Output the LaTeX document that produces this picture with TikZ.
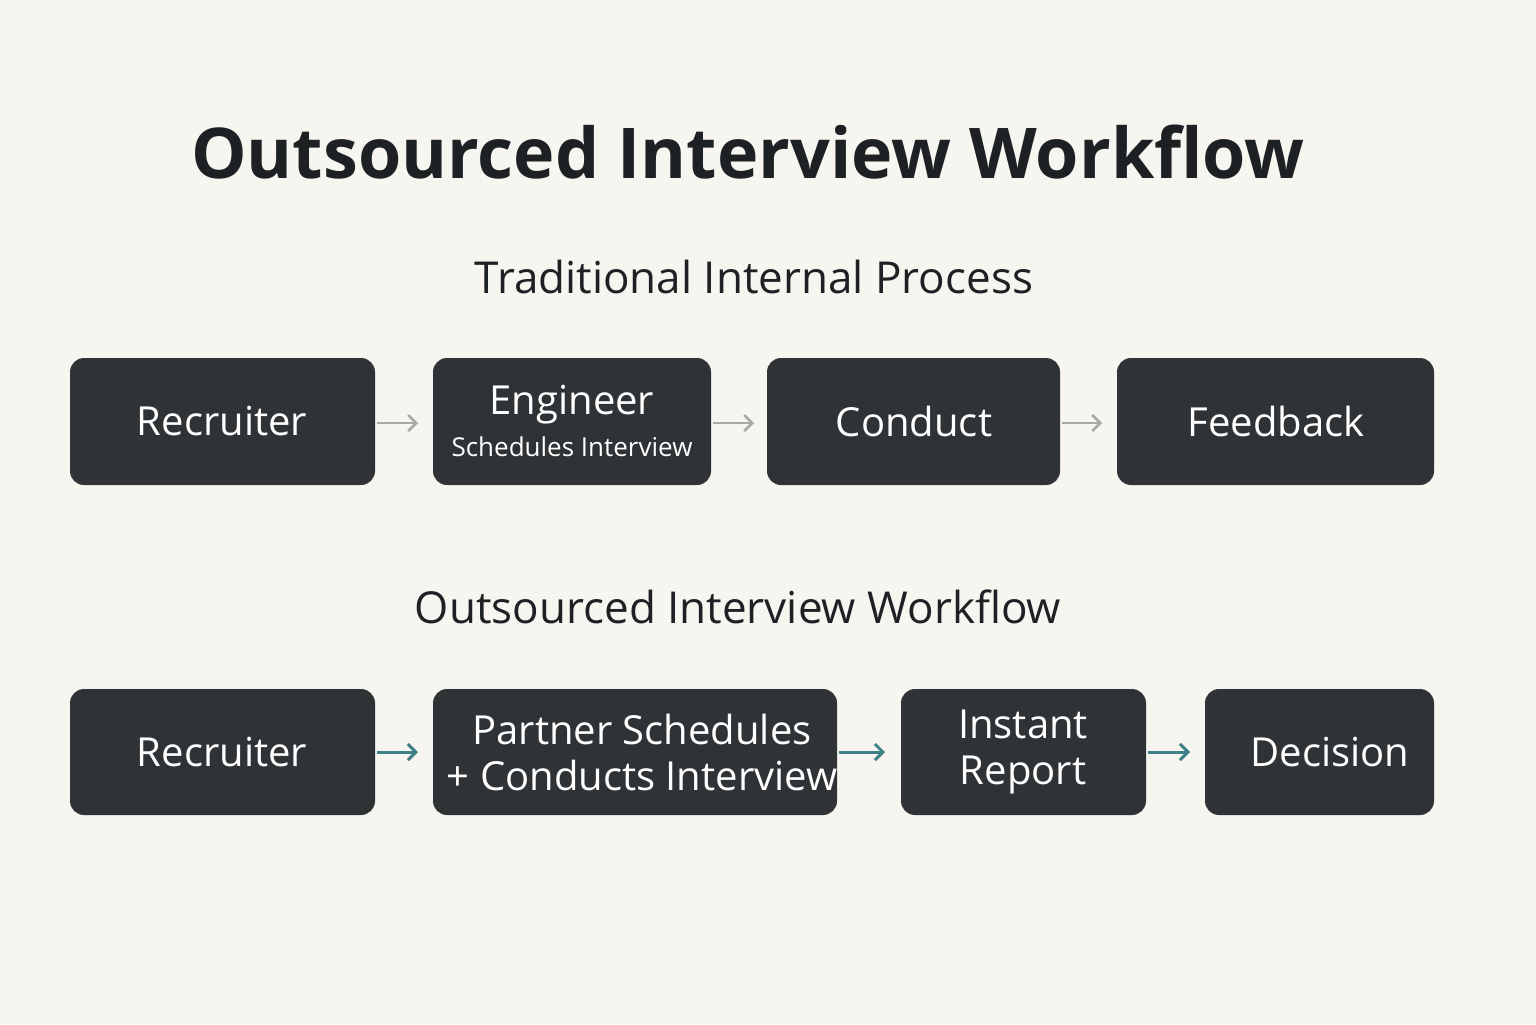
\documentclass[tikz,border=0pt]{standalone}
\usepackage{fontspec}
\setmainfont{Open Sans}
\usetikzlibrary{arrows.meta}
\definecolor{bg}{HTML}{F7F5F0}
\definecolor{boxc}{HTML}{2F3336}
\definecolor{txt}{HTML}{1E2124}
\definecolor{grayarr}{HTML}{A8A8A6}
\definecolor{teal}{HTML}{3F7F86}
\begin{document}
\begin{tikzpicture}[x=0.5pt,y=-0.5pt,
  stepbox/.style={fill=boxc,rounded corners=7pt,text=white,font=\fontsize{20}{23}\selectfont,align=center,inner sep=0pt},
  grayflow/.style={draw=grayarr,line width=1.3pt,-{Straight Barb[length=4pt,width=8pt]}},
  tealflow/.style={draw=teal,line width=1.5pt,-{Straight Barb[length=4pt,width=8pt]}}]
\fill[bg] (0,0) rectangle (1536,1024);
\useasboundingbox (0,0) rectangle (1536,1024);
\node[text=txt,font=\fontsize{35}{40}\selectfont\bfseries] (title) at (748,152) {Outsourced Interview Workflow};
\node[text=txt,font=\fontsize{22}{26}\selectfont] (sub1) at (754,277) {Traditional Internal Process};
\node[text=txt,font=\fontsize{22}{26}\selectfont] (sub2) at (738,607) {Outsourced Interview Workflow};
% top row
\path[stepbox] (70,358) rectangle (375,485);
\node[stepbox,fill=none] (a1) at (222,421) {Recruiter};
\path[stepbox] (433,358) rectangle (711,485);
\node[stepbox,fill=none] (a2) at (572,421) {Engineer\\[-2pt]{\fontsize{13}{16}\selectfont Schedules Interview}};
\path[stepbox] (767,358) rectangle (1060,485);
\node[stepbox,fill=none] (a3) at (914,421) {Conduct};
\path[stepbox] (1117,358) rectangle (1434,485);
\node[stepbox,fill=none] (a4) at (1276,421) {Feedback};
\coordinate (a1e) at (377,423); \coordinate (a2s) at (418,423);
\coordinate (a2e) at (713,423); \coordinate (a3s) at (754,423);
\coordinate (a3e) at (1062,423); \coordinate (a4s) at (1102,423);
\draw[grayflow] (a1e) -- (a2s);
\draw[grayflow] (a2e) -- (a3s);
\draw[grayflow] (a3e) -- (a4s);
% bottom row
\path[stepbox] (70,689) rectangle (375,815);
\node[stepbox,fill=none] (b1) at (222,752) {Recruiter};
\path[stepbox] (433,689) rectangle (837,815);
\node[stepbox,fill=none] (b2) at (642,752) {Partner Schedules\\+ Conducts Interview};
\path[stepbox] (901,689) rectangle (1146,815);
\node[stepbox,fill=none] (b3) at (1023,752) {Instant\\Report};
\path[stepbox] (1205,689) rectangle (1434,815);
\node[stepbox,fill=none] (b4) at (1330,752) {Decision};
\coordinate (b1e) at (377,752); \coordinate (b2s) at (418,752);
\coordinate (b2e) at (839,752); \coordinate (b3s) at (885,752);
\coordinate (b3e) at (1148,752); \coordinate (b4s) at (1190,752);
\draw[tealflow] (b1e) -- (b2s);
\draw[tealflow] (b2e) -- (b3s);
\draw[tealflow] (b3e) -- (b4s);
\end{tikzpicture}
\end{document}
